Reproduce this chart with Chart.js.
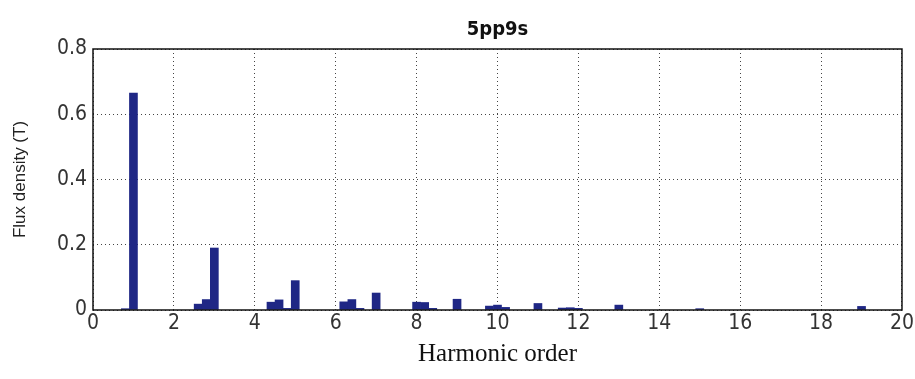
<!DOCTYPE html>
<html>
<head>
<meta charset="utf-8">
<script src="https://cdn.jsdelivr.net/npm/chart.js@4"></script>
<style>
  html, body { margin: 0; padding: 0; background: #fff; }
  #wrap { width: 915px; height: 379px; }
</style>
</head>
<body>
<div id="wrap"><canvas id="myChart" width="915" height="379"></canvas></div>
<script>
// harmonic orders and flux density amplitudes
const orders = [0.8, 1.0, 2.6, 2.8, 3.0, 4.4, 4.6, 4.8, 5.0, 6.2, 6.4, 6.6, 7.0,
                8.0, 8.2, 8.4, 9.0, 9.8, 10.0, 10.2, 11.0, 11.6, 11.8, 12.0, 13.0, 15.0, 19.0];
const fluxValues = [0.004, 0.665, 0.018, 0.032, 0.19, 0.024, 0.031, 0.005, 0.09, 0.025, 0.032, 0.005, 0.052,
                    0.024, 0.023, 0.005, 0.033, 0.012, 0.015, 0.008, 0.02, 0.006, 0.007, 0.005, 0.015, 0.004, 0.011];
const xTicks = [0, 2, 4, 6, 8, 10, 12, 14, 16, 18, 20];
const yTicks = [0, 0.2, 0.4, 0.6, 0.8];

const tickFont = { family: "'DejaVu Sans Condensed', 'Liberation Sans'", size: 21 };

// MATLAB style box round the axes
const boxPlugin = {
    id: 'box',
    afterDraw(chart) {
        const a = chart.chartArea;
        const ctx = chart.ctx;
        ctx.save();
        ctx.strokeStyle = '#111';
        ctx.lineWidth = 1.5;
        ctx.strokeRect(a.left, a.top, a.right - a.left, a.bottom - a.top);
        ctx.restore();
    }
};

let points = [];
for (let i = 0; i < orders.length; i++) {
    points.push({ x: orders[i], y: fluxValues[i] });
}

let ctx = document.getElementById('myChart').getContext('2d');
let myChart = new Chart(ctx, {
    type: 'bar',
    data: {
        datasets: [{
            data: points,
            backgroundColor: '#1f2785',
            borderWidth: 0,
            barThickness: 8
        }]
    },
    plugins: [boxPlugin],
    options: {
        responsive: false,
        animation: false,
        layout: { padding: { left: 0, right: 13, top: 0, bottom: 0 } },
        plugins: {
            legend: { display: false },
            tooltip: { enabled: false }
        },
        scales: {
            x: {
                type: 'linear',
                min: 0,
                max: 20,
                offset: false,
                afterBuildTicks: function(scale) {
                    scale.ticks = xTicks.map(v => ({ value: v }));
                },
                afterFit: function(scale) { scale.height = 69; },
                grid: {
                    offset: false,
                    color: '#444',
                    lineWidth: 1,
                    drawTicks: false
                },
                // dotted grid lines
                border: { display: false, dash: [1, 3] },
                ticks: { color: '#333', font: tickFont, padding: 1, maxRotation: 0 },
                title: {
                    display: true,
                    text: 'Harmonic order',
                    color: '#111',
                    font: { family: "'Liberation Serif', 'Times New Roman', serif", size: 25 },
                    padding: { top: 0, bottom: 10 }
                }
            },
            // top axis only carries the plot title, centred over the axes
            x2: {
                type: 'linear',
                position: 'top',
                min: 0,
                max: 20,
                afterFit: function(scale) { scale.height = 49; },
                grid: { display: false, drawTicks: false },
                border: { display: false },
                ticks: { display: false },
                title: {
                    display: true,
                    text: '5pp9s',
                    color: '#111',
                    font: { family: "'DejaVu Sans Condensed', 'Liberation Sans'", size: 20, weight: 'bold' },
                    padding: { top: 18, bottom: 0 }
                }
            },
            y: {
                min: 0,
                max: 0.8,
                afterBuildTicks: function(scale) {
                    scale.ticks = yTicks.map(v => ({ value: v }));
                },
                afterFit: function(scale) { scale.width = 93; },
                grid: {
                    color: '#444',
                    lineWidth: 1,
                    drawTicks: false
                },
                border: { display: false, dash: [1, 3] },
                ticks: { color: '#333', font: tickFont, padding: 6 },
                title: {
                    display: true,
                    text: 'Flux density (T)',
                    color: '#222',
                    font: { family: "'Liberation Sans', Arial, sans-serif", size: 17 },
                    padding: { top: 10, bottom: 4 }
                }
            }
        }
    }
});
</script>
</body>
</html>
